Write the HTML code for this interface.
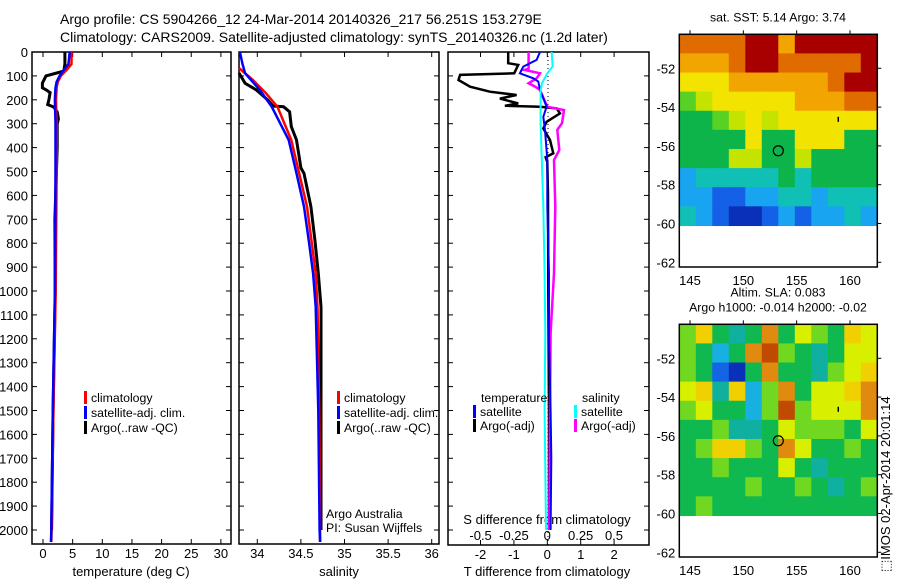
<!DOCTYPE html>
<html><head><meta charset="utf-8"><style>
html,body{margin:0;padding:0;background:#fff;}
svg{display:block;font-family:"Liberation Sans",Arial,sans-serif;}
text{font-size:13px;fill:#000;}
text.lg{font-size:12.3px;}
</style></head><body>
<svg id="fig" width="900" height="580" viewBox="0 0 900 580">
<text x="60" y="24" style="font-size:14px">Argo profile: CS 5904266_12 24-Mar-2014 20140326_217 56.251S 153.279E</text>
<text x="60" y="42" style="font-size:14px">Climatology: CARS2009. Satellite-adjusted climatology: synTS_20140326.nc (1.2d later)</text>
<g id="p1"></g>
<g id="p2"></g>
<g id="p3"></g>
<g id="m1"></g>
<g id="m2"></g>
<text transform="translate(890,572) rotate(-90)" style="font-size:13px">⬚IMOS 02-Apr-2014 20:01:14</text>
</svg>
<script>
// ---- data ----
const depthTicks=[0,100,200,300,400,500,600,700,800,900,1000,1100,1200,1300,1400,1500,1600,1700,1800,1900,2000];
const tempTicks=[0,5,10,15,20,25,30];
const salTicks=[34,34.5,35,35.5,36];
const tdiffTicks=[-2,-1,0,1,2];
const sdiffTicks=[-0.5,-0.25,0,0.25,0.5];
const sdiffLabels=["-0.5","-0.25","0","0.25","0.5"];

const tClimDepth=[0,50,75,100,125,150,200,300,500,1000,1500,2000,2050];
const tClimVal=[4.8,4.8,4.0,3.0,2.5,2.3,2.2,2.3,2.3,2.15,1.75,1.45,1.4];
const tSatDepth=[0,50,75,100,125,150,200,300,500,1000,1500,2000,2050];
const tSatVal=[4.5,4.3,3.5,2.8,2.3,2.1,2.0,2.1,2.1,2.0,1.65,1.4,1.35];
const tArgoDepth=[0,50,80,90,100,130,150,160,170,200,220,230,250,280,300,400,700,1000,1500,2000];
const tArgoVal=[3.7,3.7,3.5,2.0,0.5,-0.1,-0.1,0.6,1.2,1.0,0.8,1.8,2.4,2.6,2.4,2.4,2.0,2.05,1.7,1.45];

const sClimDepth=[67,117,173,229,368,508,647,787,926,1066,1500,2000,2050];
const sClimVal=[33.79,33.95,34.1,34.23,34.39,34.48,34.57,34.62,34.67,34.69,34.71,34.72,34.72];
const sSatDepth=[0,50,89,159,201,229,368,508,647,787,926,1066,1500,2000,2050];
const sSatVal=[33.8,33.83,33.86,34.03,34.11,34.165,34.36,34.45,34.535,34.59,34.64,34.67,34.7,34.715,34.72];
const sArgoDepth=[88,131,159,201,226,229,250,312,368,485,508,647,787,926,1066,1500,2000];
const sArgoVal=[33.79,33.86,33.99,34.12,34.18,34.3,34.37,34.39,34.45,34.5,34.535,34.615,34.66,34.7,34.73,34.73,34.73];

const dTArgoDepth=[0,47,54,89,96,117,145,166,180,195,215,225,229,236,257,292,320,368,424,440,460,600,1000,1500,2000];
const dTArgoVal=[-1.17,-1.17,-0.87,-0.99,-2.61,-2.66,-2.31,-1.72,-0.92,-1.42,-0.87,-1.27,-0.22,0.28,0.38,-0.02,-0.12,0.08,0.18,-0.05,0.0,0.02,0.03,0.05,0.05];
const dSArgoDepth=[0,70,75,89,110,131,145,159,229,243,298,326,410,452,647,926,1176,1500,2000];
const dSArgoVal=[-0.14,-0.14,-0.17,-0.055,-0.08,-0.14,-0.09,-0.055,0,0.125,0.11,0.075,0.09,0.05,0.06,0.05,0.025,0.02,0.015];
const dTSatDepth=[0,33,61,89,110,124,159,229,271,326,452,647,926,1200,1500,1700,2000];
const dTSatVal=[-0.22,-0.32,-0.72,-0.82,-0.42,-0.27,-0.22,-0.02,-0.12,-0.07,0,0,0.05,0.05,0.1,0.12,0.1];
const dSSatDepth=[0,61,89,131,159,298,647,926,1176,1500,2000];
const dSSatVal=[0.033,0.04,0,-0.04,-0.05,-0.05,-0.03,-0.02,-0.015,-0.02,-0.01];

const mapLonTicks=[145,150,155,160];
const mapLatTicks=[-52,-54,-56,-58,-60,-62];
const sstGrid=[
[9,9,9,9,10,10,8,10,10,10,10,10],
[8,8,8,9,10,10,9,9,9,9,9,10],
[7,7,7,8,8,8,8,8,8,9,10,10],
[5,6,7,7,7,7,7,8,8,8,9,9],
[4,4,5,6,7,6,7,7,7,7,7,7],
[4,4,4,4,7,4,4,7,7,7,4,4],
[4,4,4,6,6,4,4,6,4,4,4,4],
[2,3,3,3,3,3,4,3,4,4,4,4],
[2,2,1,1,2,2,3,3,2,3,3,3],
[3,2,1,0,0,1,2,1,2,2,3,2]];
const slaGrid=[
[5,7,4,3,4,8,4,6,5,4,7,6],
[5,4,2,4,8,9,5,4,3,4,6,6],
[5,4,1,0,4,8,4,4,3,5,6,7],
[6,7,3,7,2,5,8,4,6,6,7,8],
[5,6,4,4,2,5,9,5,6,6,6,8],
[4,4,5,3,3,4,6,5,5,5,4,6],
[4,5,7,7,5,4,8,6,4,4,5,4],
[4,4,5,4,4,4,6,4,3,4,4,4],
[4,4,4,4,5,4,4,5,4,3,4,5],
[4,5,4,4,4,4,4,4,4,4,4,4]];
const sstColors=["#0a2fb8","#1460e6","#18a4f0","#10c0b4","#0cb44a","#58d024","#c4e400","#f2e400","#f2a400","#e06c00","#a80000"];
const slaColors=["#0a2fb8","#1464e6","#18b0e0","#10b0a0","#10b850","#70d820","#d8f000","#f0d000","#e08a10","#c04a00"];
const argoLon=153.279, argoLat=-56.251;

// ---- helpers ----
const NS="http://www.w3.org/2000/svg";
function mk(parent,tag,attrs,txt){const e=document.createElementNS(NS,tag);for(const k in attrs)e.setAttribute(k,attrs[k]);if(txt!==undefined)e.textContent=txt;parent.appendChild(e);return e;}
const yD=d=>52+d*0.239;
const xT=t=>43+t*5.93;
const xS=s=>257.3+(s-34)*87.2;
const xTd=t=>547.3+t*33.4;
const xSd=s=>547.3+s*133.4;

function frame(g,x0,x1,y0,y1,name){
  const r=mk(g,'rect',{x:x0,y:y0,width:x1-x0,height:y1-y0,fill:'none',stroke:'#000','stroke-width':1.5});
  
  
  depthTicks.forEach(d=>{const y=yD(d);
    mk(g,'line',{x1:x0,x2:x0+5,y1:y,y2:y,stroke:'#000'});
    mk(g,'line',{x1:x1,x2:x1-5,y1:y,y2:y,stroke:'#000'});});
}
function profile(g,xs,depths,vals,color,name,w){
  const pts=depths.map((d,i)=>xs(vals[i]).toFixed(1)+','+yD(d).toFixed(1)).join(' ');
  const p=mk(g,'polyline',{points:pts,fill:'none',stroke:color,'stroke-width':w||2.5,'stroke-linejoin':'miter'});
  
  
}
function legend(g,x,y,color,label,name){
  mk(g,'rect',{x:x,y:y-11,width:3,height:13,fill:color});
  const t=mk(g,'text',{x:x+7,y:y,'class':'lg'},label);
  
  
}

// ---- panel 1 ----
const p1=document.getElementById('p1');
frame(p1,32,231,52,544,'temperature-axes');
depthTicks.forEach(d=>{const t=mk(p1,'text',{x:28,y:yD(d)+5,'text-anchor':'end'},String(d));
  
  });
tempTicks.forEach(v=>{const x=xT(v);mk(p1,'line',{x1:x,x2:x,y1:544,y2:539,stroke:'#000'});mk(p1,'line',{x1:x,x2:x,y1:52,y2:57,stroke:'#000'});
  const t=mk(p1,'text',{x:x,y:558,'text-anchor':'middle'},String(v));
  
  });
mk(p1,'text',{x:131,y:576,'text-anchor':'middle'},'temperature (deg C)');
profile(p1,xT,tArgoDepth,tArgoVal,'#000','temp-argo-line',3);
profile(p1,xT,tClimDepth,tClimVal,'#f00','temp-climatology-line');
profile(p1,xT,tSatDepth,tSatVal,'#00f','temp-satellite-line');
legend(p1,84,402,'#f00','climatology','legend-climatology');
legend(p1,84,417,'#00f','satellite-adj. clim.','legend-satellite');
legend(p1,84,432,'#000','Argo(..raw -QC)','legend-argo');

// ---- panel 2 ----
const p2=document.getElementById('p2');
frame(p2,239,439,52,544,'salinity-axes');
salTicks.forEach(v=>{const x=xS(v);mk(p2,'line',{x1:x,x2:x,y1:544,y2:539,stroke:'#000'});mk(p2,'line',{x1:x,x2:x,y1:52,y2:57,stroke:'#000'});
  const t=mk(p2,'text',{x:x,y:558,'text-anchor':'middle'},String(v));
  
  });
mk(p2,'text',{x:339,y:576,'text-anchor':'middle'},'salinity');
profile(p2,xS,sArgoDepth,sArgoVal,'#000','sal-argo-line',3);
profile(p2,xS,sClimDepth,sClimVal,'#f00','sal-climatology-line');
profile(p2,xS,sSatDepth,sSatVal,'#00f','sal-satellite-line');
legend(p2,337,402,'#f00','climatology','legend-climatology');
legend(p2,337,417,'#00f','satellite-adj. clim.','legend-satellite');
legend(p2,337,432,'#000','Argo(..raw -QC)','legend-argo');
mk(p2,'text',{x:326,y:518,'class':'lg'},'Argo Australia');
mk(p2,'text',{x:326,y:532,'class':'lg'},'PI: Susan Wijffels');

// ---- panel 3 ----
const p3=document.getElementById('p3');
frame(p3,448,649,52,545,'difference-axes');
mk(p3,'line',{x1:548,x2:548,y1:52,y2:545,stroke:'#000','stroke-dasharray':'1,3'});
tdiffTicks.forEach(v=>{const x=xTd(v);mk(p3,'line',{x1:x,x2:x,y1:545,y2:540,stroke:'#000'});mk(p3,'line',{x1:x,x2:x,y1:52,y2:57,stroke:'#000'});
  const t=mk(p3,'text',{x:x,y:559,'text-anchor':'middle'},String(v));
  
  });
sdiffTicks.forEach((v,i)=>{const t=mk(p3,'text',{x:xSd(v),y:540,'text-anchor':'middle'},sdiffLabels[i]);
  
  });
mk(p3,'text',{x:547,y:524,'text-anchor':'middle'},'S difference from climatology');
mk(p3,'text',{x:547,y:576,'text-anchor':'middle'},'T difference from climatology');
profile(p3,xTd,dTArgoDepth,dTArgoVal,'#000','tdiff-argo-line',2.5);
profile(p3,xSd,dSArgoDepth,dSArgoVal,'#f0f','sdiff-argo-line',2.5);
profile(p3,xTd,dTSatDepth,dTSatVal,'#00f','tdiff-satellite-line',2);
profile(p3,xSd,dSSatDepth,dSSatVal,'#0ff','sdiff-satellite-line',2);
mk(p3,'text',{x:481,y:402,'class':'lg'},'temperature');
mk(p3,'text',{x:582,y:402,'class':'lg'},'salinity');
legend(p3,473,416,'#00f','satellite','legend-t-satellite');
legend(p3,473,430,'#000','Argo(-adj)','legend-t-argo');
legend(p3,574,416,'#0ff','satellite','legend-s-satellite');
legend(p3,574,430,'#f0f','Argo(-adj)','legend-s-argo');

// ---- maps ----
function map(g,grid,colors,top,titles,name){
  const x0=679.3,x1=877.3,y1=top+232.7;
  const lonX=l=>690+(l-145)*10.667;
  const latY=l=>top+34+(-52-l)*19.4;
  const yImgTop=top, yImgBot=latY(-60.1);
  const cw=(x1-x0)/grid[0].length, ch=(yImgBot-yImgTop)/grid.length;
  grid.forEach((row,r)=>row.forEach((v,c)=>{
    const cell=mk(g,'rect',{x:(x0+c*cw).toFixed(2),y:(yImgTop+r*ch).toFixed(2),width:(cw+0.6).toFixed(2),height:(ch+0.6).toFixed(2),fill:colors[v]});
    
    
  }));
  const b=mk(g,'rect',{x:x0,y:top,width:x1-x0,height:y1-top,fill:'none',stroke:'#000','stroke-width':1.5});
  
  
  mapLonTicks.forEach(l=>{const x=lonX(l);mk(g,'line',{x1:x,x2:x,y1:top,y2:top-4,stroke:'#000'});
    const t=mk(g,'text',{x:x,y:y1+18,'text-anchor':'middle'},String(l));
    
    });
  mapLatTicks.forEach(l=>{const y=latY(l);mk(g,'line',{x1:x1,x2:x1+4,y1:y,y2:y,stroke:'#000'});
    const t=mk(g,'text',{x:x0-4,y:y+5,'text-anchor':'end'},String(l));
    
    });
  const c=mk(g,'circle',{cx:lonX(argoLon),cy:latY(argoLat),r:5,fill:'none',stroke:'#000','stroke-width':1.2});
  
  
  mk(g,'path',{d:`M${lonX(158.9)} ${latY(-54.5)} l0 5`,stroke:'#000','stroke-width':1.5});
  titles.forEach((t,i)=>{const e=mk(g,'text',{x:778,y:top-(titles.length-i)*15+2,'text-anchor':'middle','class':'lg'},t);
    
    });
}
map(document.getElementById('m1'),sstGrid,sstColors,34.3,['sat. SST: 5.14 Argo: 3.74'],'sst-map');
map(document.getElementById('m2'),slaGrid,slaColors,324.3,['Altim. SLA: 0.083','Argo h1000: -0.014 h2000: -0.02'],'sla-map');
</script>
</body></html>
